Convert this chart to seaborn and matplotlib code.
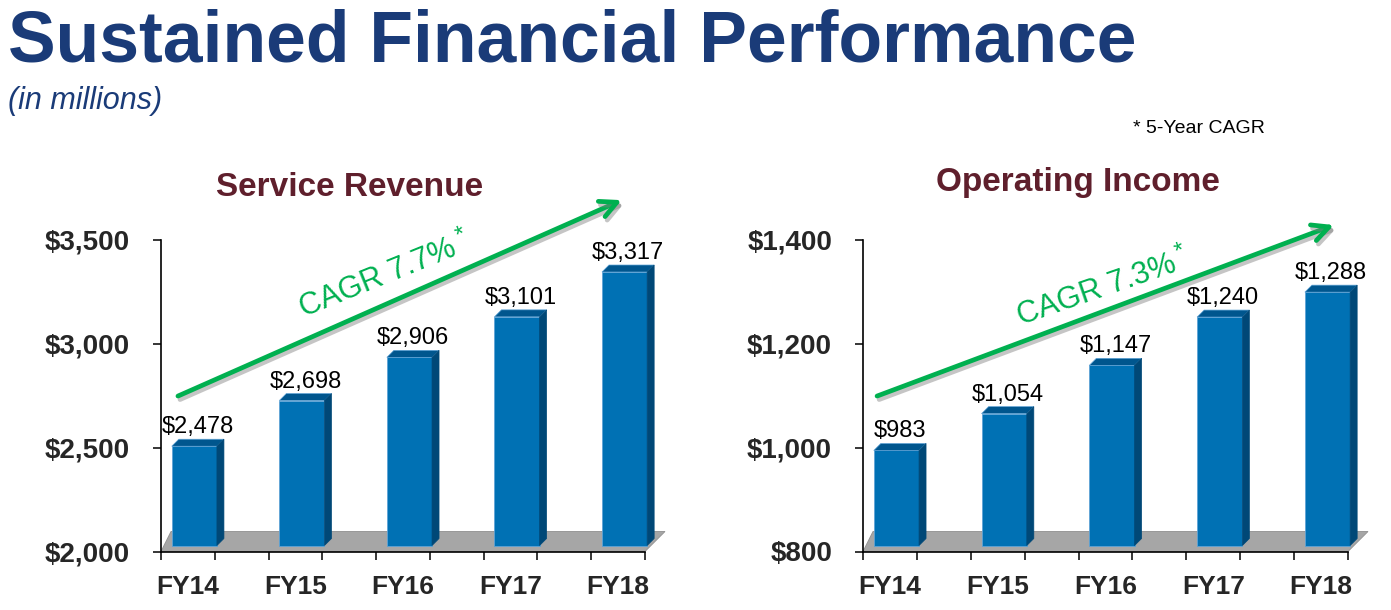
import matplotlib
matplotlib.use("Agg")
import matplotlib.pyplot as plt
import matplotlib.patheffects as pe
from matplotlib.patches import Polygon
import seaborn as sns
import pandas as pd

# ---------------- data ----------------
years = ["FY14", "FY15", "FY16", "FY17", "FY18"]
revenue = [2478, 2698, 2906, 3101, 3317]
op_income = [983, 1054, 1147, 1240, 1288]
rev_ticks = [2000, 2500, 3000, 3500]
inc_ticks = [800, 1000, 1200, 1400]
rev_cagr = "CAGR 7.7%"
inc_cagr = "CAGR 7.3%"

# ---------------- style ----------------
sns.set_theme(style="ticks")
plt.rcParams["font.family"] = ["Liberation Sans", "DejaVu Sans"]

FRONT = "#0071B4"
TOP = "#00568E"
SIDE = "#004877"
EDGE = "#5FA3D6"
FLOOR = "#A6A6A6"
GREEN = "#00B050"
NAVY = "#1A3B78"
MAROON = "#5F1F2C"

W, H = 1391, 610
fig = plt.figure(figsize=(W / 100, H / 100), dpi=100)
fig.patch.set_facecolor("white")


def rect(x0, x1, ytop, ybot):
    return [x0 / W, (H - ybot) / H, (x1 - x0) / W, (ybot - ytop) / H]


ax1 = fig.add_axes(rect(161, 645, 240, 551.5))
ax2 = fig.add_axes(rect(863, 1348, 240, 551.5))


def draw_panel(ax, values, ticks):
    df = pd.DataFrame({"year": years, "value": values})
    sns.barplot(data=df, x="year", y="value", ax=ax, color=FRONT,
                saturation=1, width=0.42, edgecolor=EDGE, linewidth=0.6)
    y0, y1 = ticks[0], ticks[-1]
    xmin, xmax = -0.25, len(years) - 0.75
    ax.set_xlim(xmin, xmax)
    ax.set_ylim(y0, y1)
    bb = ax.get_position()
    sx = bb.width * W / (xmax - xmin)       # px per x unit
    sy = bb.height * H / (y1 - y0)          # px per y unit
    dx, dy = 7 / sx, 7 / sy                 # bar depth
    lift = 6 / sy
    shift = 0.06

    # floor
    floor = Polygon([(xmin, y0), (xmax, y0), (xmax + 20 / sx, y0 + 20 / sy),
                     (xmin + 10 / sx, y0 + 20 / sy)], closed=True,
                    facecolor=FLOOR, edgecolor="#8F8F8F", lw=0.6,
                    zorder=1, clip_on=False)
    ax.add_patch(floor)

    for p, v in zip(list(ax.patches)[:len(values)], values):
        p.set_x(p.get_x() + shift)
        p.set_y(y0 + lift)
        p.set_height(v - y0)
        p.set_zorder(3)
        p.set_clip_on(False)
        xl = p.get_x()
        xr = xl + p.get_width()
        top = v + lift
        bot = y0 + lift
        ax.add_patch(Polygon([(xl, top), (xr, top), (xr + dx, top + dy), (xl + dx, top + dy)],
                             closed=True, facecolor=TOP, edgecolor=EDGE, lw=0.5,
                             zorder=3, clip_on=False))
        ax.add_patch(Polygon([(xr, bot), (xr, top), (xr + dx, top + dy), (xr + dx, bot + dy)],
                             closed=True, facecolor=SIDE, edgecolor=SIDE, lw=0.5,
                             zorder=3, clip_on=False))
        ax.text((xl + xr) / 2 + dx / 2, top + 13 / sy, f"${v:,}", ha="center",
                va="baseline", fontsize=17, color="black", zorder=5, clip_on=False)

    ax.set_xlabel("")
    ax.set_ylabel("")
    ax.set_yticks(ticks)
    ax.set_yticklabels([f"${t:,}" for t in ticks], fontsize=20, fontweight="bold")
    ax.set_xticks(range(len(years)))
    ax.set_xticklabels(years, fontsize=19, fontweight="bold")
    ax.set_xticks([xmin + 0.5 * i for i in range(2 * len(years))], minor=True)
    ax.tick_params(axis="x", which="major", length=0, pad=17)
    ax.tick_params(axis="x", which="minor", length=5.8, width=1.1, color="black",
                   direction="out", bottom=True)
    ax.tick_params(axis="y", which="major", length=5.8, width=1.1, color="black",
                   direction="out", pad=16.5, left=True)
    ax.tick_params(axis="y", which="minor", left=False)
    for s in ["top", "right"]:
        ax.spines[s].set_visible(False)
    for s in ["left", "bottom"]:
        ax.spines[s].set_color("black")
        ax.spines[s].set_linewidth(1.2)
    ax.set_facecolor("none")


draw_panel(ax1, revenue, rev_ticks)
draw_panel(ax2, op_income, inc_ticks)

shadow = [pe.SimpleLineShadow(offset=(1.5, -2.5), shadow_color="#7F7F7F", alpha=0.45),
          pe.Normal()]


def cagr(ax, start, end, label, center, angle):
    ax.annotate("", xy=end, xytext=start,
                xycoords="axes fraction", textcoords="axes fraction",
                arrowprops=dict(arrowstyle="->,head_length=1.0,head_width=0.5",
                                lw=3.4, color=GREEN, shrinkA=0, shrinkB=0,
                                path_effects=shadow), annotation_clip=False)
    t = ax.text(center[0], center[1], label, transform=ax.transAxes, rotation=angle,
                rotation_mode="anchor", ha="center", va="center", fontsize=22,
                color=GREEN)
    ax.annotate("*", xy=(1, 1), xycoords=t, xytext=(-6, 7),
                textcoords="offset points", ha="left", va="top", fontsize=17,
                color=GREEN, rotation=angle, annotation_clip=False)


cagr(ax1, (0.035, 0.499), (0.952, 1.128), rev_cagr, (0.448, 0.878), 22)
cagr(ax2, (0.029, 0.499), (0.971, 1.048), inc_cagr, (0.482, 0.838), 19)

# titles
fig.text(8 / W, (H - 62) / H, "Sustained Financial Performance", fontsize=51.5,
         fontweight="bold", color=NAVY, ha="left", va="baseline")
fig.text(8 / W, (H - 101) / H, "(in millions)", fontsize=22, fontstyle="italic",
         color=NAVY, ha="left", va="center")
fig.text(1133 / W, (H - 128) / H, "* 5-Year CAGR", fontsize=14, color="black",
         ha="left", va="center")
fig.text(350 / W, (H - 187) / H, "Service Revenue", fontsize=24, fontweight="bold",
         color=MAROON, ha="center", va="center")
fig.text(1078 / W, (H - 183) / H, "Operating Income", fontsize=24, fontweight="bold",
         color=MAROON, ha="center", va="center")

fig.savefig("out.png", dpi=100, facecolor="white")
